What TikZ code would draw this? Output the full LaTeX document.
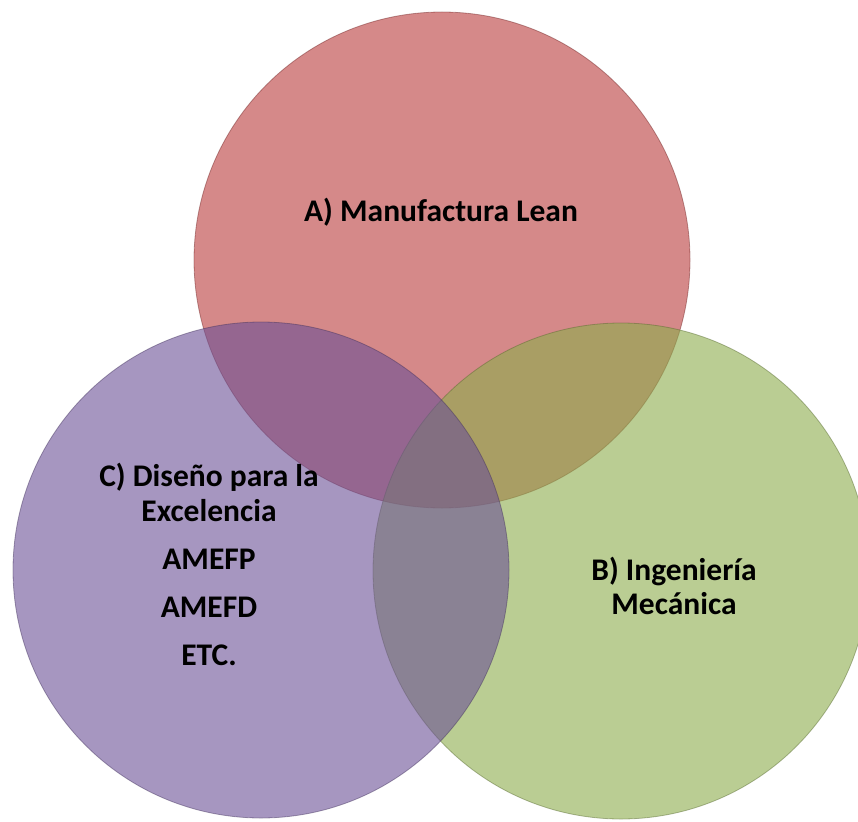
\documentclass[tikz,border=0pt]{standalone}
\usepackage{fontspec}
\setmainfont{Carlito}
\usetikzlibrary{positioning}
\definecolor{leanred}{RGB}{185,58,58}
\definecolor{mecgreen}{RGB}{140,172,75}
\definecolor{dispurple}{RGB}{107,80,150}
\tikzset{
    venn/.style={
      circle,
           draw opacity=0.45, thick,
           fill opacity=0.6,
           inner sep=0pt,
           minimum size=496pt,
           },
}
\tikzset{
    lbl/.style={
      font=\fontsize{31.5}{35}\selectfont\bfseries,
           align=center,
           text=black,
           inner sep=0pt,
           },
}
\begin{document}
\begin{tikzpicture}[x=1pt,y=-1pt]

\useasboundingbox (0,0) rectangle (858,821);

\node[venn,fill=leanred,draw=leanred!60!black](lean) at (442,260){};
\node[venn,fill=mecgreen,draw=mecgreen!60!black](mec) at (621,571){};
\node[venn,fill=dispurple,draw=dispurple!60!black](dis) at (261,570){};

% base anchor sits on the last line
\node[lbl,anchor=base](tlean) at (441,221){A) Manufactura Lean};
\node[lbl,anchor=base](tmec) at (674,614){B) Ingeniería\\[-1pt]Mecánica};
\node[lbl,anchor=base](tdis) at (209,665){C) Diseño para la\\Excelencia\\[13pt]AMEFP\\[13pt]AMEFD\\[13pt]ETC.};

\end{tikzpicture}
\end{document}
